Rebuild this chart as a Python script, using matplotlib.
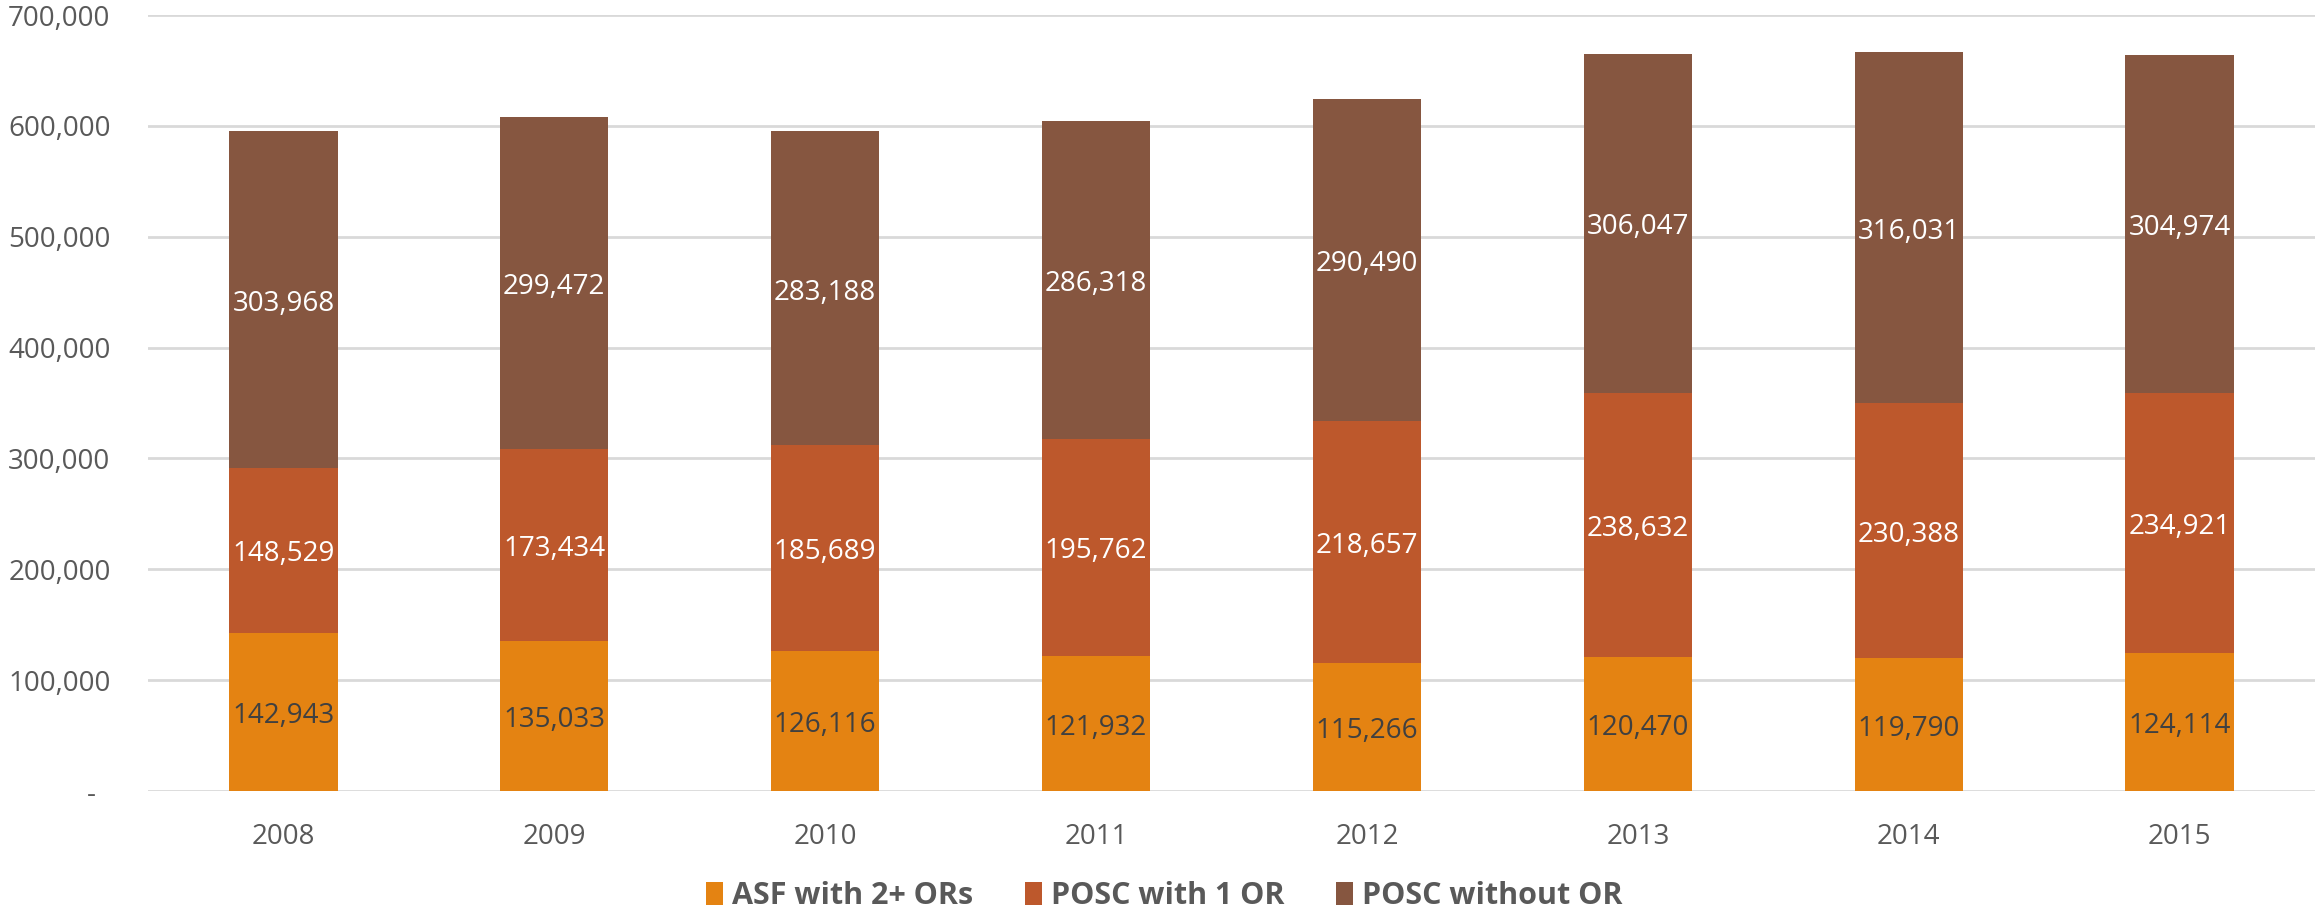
import numpy as np
import matplotlib.pyplot as plt
from matplotlib.ticker import FuncFormatter

years = ['2008', '2009', '2010', '2011', '2012', '2013', '2014', '2015']
asf_2plus = [142943, 135033, 126116, 121932, 115266, 120470, 119790, 124114]
posc_1or = [148529, 173434, 185689, 195762, 218657, 238632, 230388, 234921]
posc_no_or = [303968, 299472, 283188, 286318, 290490, 306047, 316031, 304974]
series_names = ['ASF with 2+ ORs', 'POSC with 1 OR', 'POSC without OR']

colors = ['#E48312', '#BD582C', '#865640']
label_colors = ['#404040', 'white', 'white']

plt.rcParams['font.family'] = ['Open Sans', 'DejaVu Sans']

fig = plt.figure(figsize=(23.15, 9.15), dpi=100)
ax = fig.add_axes([148 / 2315, 1 - 791 / 915, 1 - 148 / 2315, (791 - 15) / 915])

x = np.arange(len(years))
bottom = np.zeros(len(years))
for vals, name, col, lcol in zip([asf_2plus, posc_1or, posc_no_or], series_names, colors, label_colors):
    vals = np.array(vals)
    bars = ax.bar(x, vals, 0.4, bottom=bottom, color=col, label=name, zorder=3)
    ax.bar_label(bars, labels=[f'{v:,}' for v in vals], label_type='center',
                 color=lcol, fontsize=20, padding=-3)
    bottom += vals

ax.set_xlim(-0.5, len(years) - 0.5)
ax.set_ylim(0, 700000)
ax.set_yticks(np.arange(0, 700001, 100000))
ax.yaxis.set_major_formatter(FuncFormatter(lambda v, p: '-  ' if v == 0 else f'{int(v):,}'))
ax.set_xticks(x)
ax.set_xticklabels(years)
ax.tick_params(axis='y', length=0, labelsize=20, labelcolor='#595959', pad=27)
ax.tick_params(axis='x', length=0, labelsize=20, labelcolor='#595959', pad=23)
ax.grid(axis='y', color='#D9D9D9', linewidth=2, zorder=0)
for s in ax.spines.values():
    s.set_visible(False)

leg = fig.legend(loc='center', bbox_to_anchor=(0.503, 1 - 896 / 915), ncol=3, frameon=False,
                 handlelength=0.55, handleheight=0.75, handletextpad=0.3, columnspacing=1.7,
                 prop={'size': 22, 'weight': 'bold'})
for t in leg.get_texts():
    t.set_color('#595959')

fig.savefig('out.png', dpi=100)
